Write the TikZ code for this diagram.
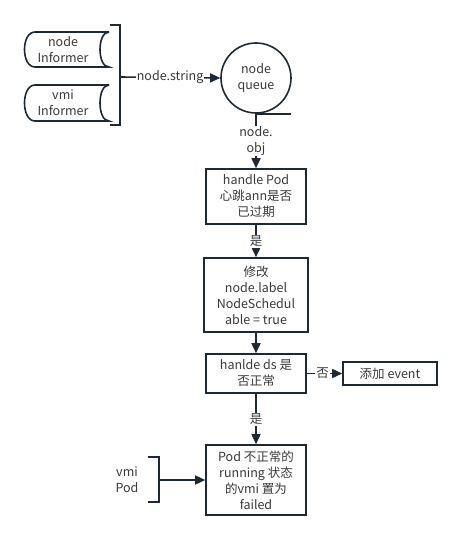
\documentclass[tikz,border=0pt]{standalone}
\usepackage{fontspec}
\setmainfont{Noto Sans CJK SC}
\usetikzlibrary{arrows.meta}
\definecolor{ln}{HTML}{1F2933}
\definecolor{tx}{HTML}{3A3A3A}
\begin{document}
\begin{tikzpicture}[x=1pt,y=-1pt,
  font=\fontsize{12.5}{16}\selectfont,
  every node/.style={text=tx, align=center},
  box/.style={draw=ln, line width=1.6pt, inner sep=0pt, fill=white},
  ln/.style={draw=ln, line width=1.6pt},
  arr/.style={ln, -{Triangle[length=10pt,width=9pt]}},
  lab/.style={fill=white, inner sep=1pt}]
\useasboundingbox[fill=white] (0,0) rectangle (467,540);

% stored-data shapes
\foreach \yt/\yb/\nm/\txt in {32/67/ni/{node\\Informer}, 85/121/vi/{vmi\\Informer}}{
  \draw[ln] (109,\yt) -- (35,\yt) .. controls (21,\yt) and (21,\yb) .. (35,\yb) -- (109,\yb)
     .. controls (97,\yb) and (97,\yt) .. (109,\yt);
  \node (\nm) at (63,{(\yt+\yb)/2}) {\txt};
}
% bracket
\draw[ln] (110,25) -- (120,25) -- (120,125) -- (110,125);
\coordinate (br) at (120,77);

% queue
\node[circle, draw=ln, line width=1.6pt, minimum size=70pt, inner sep=0pt] (q) at (256,78) {node\\queue};
\draw[ln] (q.south) -- ++(35,0);

\draw[arr] (br) -- node[lab]{node.string} (q.west);

% boxes
\node[box, minimum width=100pt, minimum height=55pt] (b1) at (256,196.5) {handle Pod\\心跳ann是否\\已过期};
\node[box, minimum width=104pt, minimum height=74pt] (b2) at (256,295) {修改\\node.label\\NodeSchedul\\able = true};
\node[box, minimum width=100pt, minimum height=39pt] (b3) at (256,373.5) {hanlde ds 是\\否正常};
\node[box, minimum width=94pt, minimum height=23pt] (b4) at (390,373.5) {添加 event};
\node[box, minimum width=100pt, minimum height=70pt] (b5) at (256,480) {Pod 不正常的\\running 状态\\的vmi 置为\\failed};

\draw[arr] (q.south) -- node[lab]{node.\\obj} (b1.north);
\draw[arr] (b1.south) -- node[lab]{是} (b2.north);
\draw[arr] (b2.south) -- (b3.north);
\draw[arr] (b3.east) -- node[lab, pos=0.45]{否} (b4.west);
\draw[arr] (b3.south) -- node[lab]{是} (b5.north);

% vmi Pod
\node (vp) at (127,480) {vmi\\Pod};
\draw[ln] (148,457) -- (159,457) -- (159,502) -- (148,502);
\coordinate (vb) at (159,480);
\draw[arr] (vb) -- (b5.west);
\end{tikzpicture}
\end{document}
